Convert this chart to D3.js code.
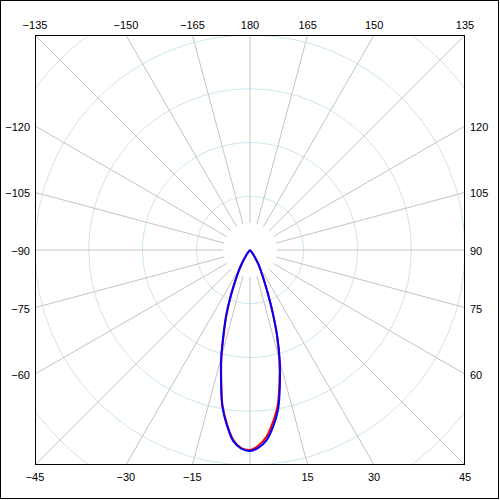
<!DOCTYPE html>
<html>
<head>
<meta charset="utf-8">
<script src="https://cdn.jsdelivr.net/npm/d3@7"></script>
<style>
  html, body { margin: 0; padding: 0; background: #fff; }
  svg { display: block; }
  text { font-family: "Liberation Sans", Arial, sans-serif; font-size: 11px; fill: #000; }
</style>
</head>
<body>
<svg width="500" height="500"></svg>
<script>
'use strict';

// gamma angles (deg), 0 = straight down, positive to the right
const angles = [-45, -42.5, -40, -37.5, -35, -32.5, -30, -27.5, -25, -22.5, -20, -17.5, -15, -12.5, -10, -7.5, -5, -2.5,
  0, 2.5, 5, 7.5, 10, 12.5, 15, 17.5, 20, 22.5, 25, 27.5, 30, 32.5, 35, 37.5, 40, 42.5, 45];

// intensity, blue plane
const blueValues = [0, 2, 4, 8, 14, 23, 36, 50, 69, 97, 130, 164, 207, 249, 296, 329, 357, 370,
  374, 368, 355, 331, 301, 257, 214, 169, 123, 86, 61, 45, 34, 22, 13, 7, 4, 2, 0];

// intensity, red plane
const redValues = [0, 1, 3, 7, 13, 22, 34, 48, 66, 94, 127, 161, 205, 247, 294, 327, 355, 369,
  372, 364, 349, 324, 295, 253, 211, 166, 121, 84, 59, 43, 32, 21, 12, 6, 3, 1, 0];

const ringValues = [100, 200, 300, 400, 500];
const spokeAngles = d3.range(-165, 181, 15);

const topLabels = [-135, -150, -165, 180, 165, 150, 135];
const leftLabels = [-120, -105, -90, -75, -60];
const rightLabels = [120, 105, 90, 75, 60];
const bottomLabels = [-45, -30, -15, 15, 30, 45];

const svg = d3.select("svg");
const cx = 250, cy = 250, half = 215;
const rad = d => d * Math.PI / 180;

const r = d3.scaleLinear().domain([0, 400]).range([0, half]);

// outer frame
svg.append("rect")
  .attr("x", 0.5).attr("y", 0.5)
  .attr("width", 498).attr("height", 498)
  .attr("fill", "none").attr("stroke", "#000");

svg.append("clipPath").attr("id", "plot")
  .append("rect")
  .attr("x", cx - half).attr("y", cy - half)
  .attr("width", half * 2).attr("height", half * 2);

const g = svg.append("g")
  .attr("clip-path", "url(#plot)")
  .append("g")
  .attr("transform", `translate(${cx},${cy})`);

// rings
g.selectAll("circle.ring")
  .data(ringValues)
  .join("circle")
  .attr("class", "ring")
  .attr("r", d => r(d))
  .attr("fill", "none")
  .attr("stroke", "#cbe6ee")
  .attr("stroke-width", 1);

// spokes
const r0 = half / 8;
g.selectAll("line.spoke")
  .data(spokeAngles)
  .join("line")
  .attr("class", "spoke")
  .attr("x1", d => r0 * Math.sin(rad(d)))
  .attr("y1", d => r0 * Math.cos(rad(d)))
  .attr("x2", d => 400 * Math.sin(rad(d)))
  .attr("y2", d => 400 * Math.cos(rad(d)))
  .attr("stroke", "#c4c4c4")
  .attr("stroke-width", 1);

// curves
const line = d3.lineRadial()
  .angle(d => Math.PI - rad(d[0]))
  .radius(d => r(d[1]))
  .curve(d3.curveCatmullRom.alpha(0.5));

g.append("path")
  .datum(d3.zip(angles, redValues))
  .attr("d", line)
  .attr("fill", "none")
  .attr("stroke", "#ff0000")
  .attr("stroke-width", 2);

g.append("path")
  .datum(d3.zip(angles, blueValues))
  .attr("d", line)
  .attr("fill", "none")
  .attr("stroke", "#0000ff")
  .attr("stroke-width", 2);

// plot border
svg.append("rect")
  .attr("x", cx - half + 0.5).attr("y", cy - half + 0.5)
  .attr("width", half * 2 - 1).attr("height", half * 2 - 1)
  .attr("fill", "none").attr("stroke", "#000");

// where a spoke meets the square border
function edgePoint(a) {
  const s = Math.sin(rad(a)), c = Math.cos(rad(a));
  const t = half / Math.max(Math.abs(s), Math.abs(c));
  return [cx + t * s, cy + t * c];
}

const fmt = d => d < 0 ? "\u2212" + Math.abs(d) : String(d);

svg.append("g").selectAll("text")
  .data(topLabels)
  .join("text")
  .attr("x", d => edgePoint(d)[0])
  .attr("y", 25)
  .attr("text-anchor", "middle")
  .attr("dominant-baseline", "central")
  .text(fmt);

svg.append("g").selectAll("text")
  .data(bottomLabels)
  .join("text")
  .attr("x", d => edgePoint(d)[0])
  .attr("y", 477)
  .attr("text-anchor", "middle")
  .attr("dominant-baseline", "central")
  .text(fmt);

svg.append("g").selectAll("text")
  .data(leftLabels)
  .join("text")
  .attr("x", 30)
  .attr("y", d => edgePoint(d)[1] + 1)
  .attr("text-anchor", "end")
  .attr("dominant-baseline", "central")
  .text(fmt);

svg.append("g").selectAll("text")
  .data(rightLabels)
  .join("text")
  .attr("x", 470)
  .attr("y", d => edgePoint(d)[1] + 1)
  .attr("text-anchor", "start")
  .attr("dominant-baseline", "central")
  .text(fmt);
</script>
</body>
</html>
